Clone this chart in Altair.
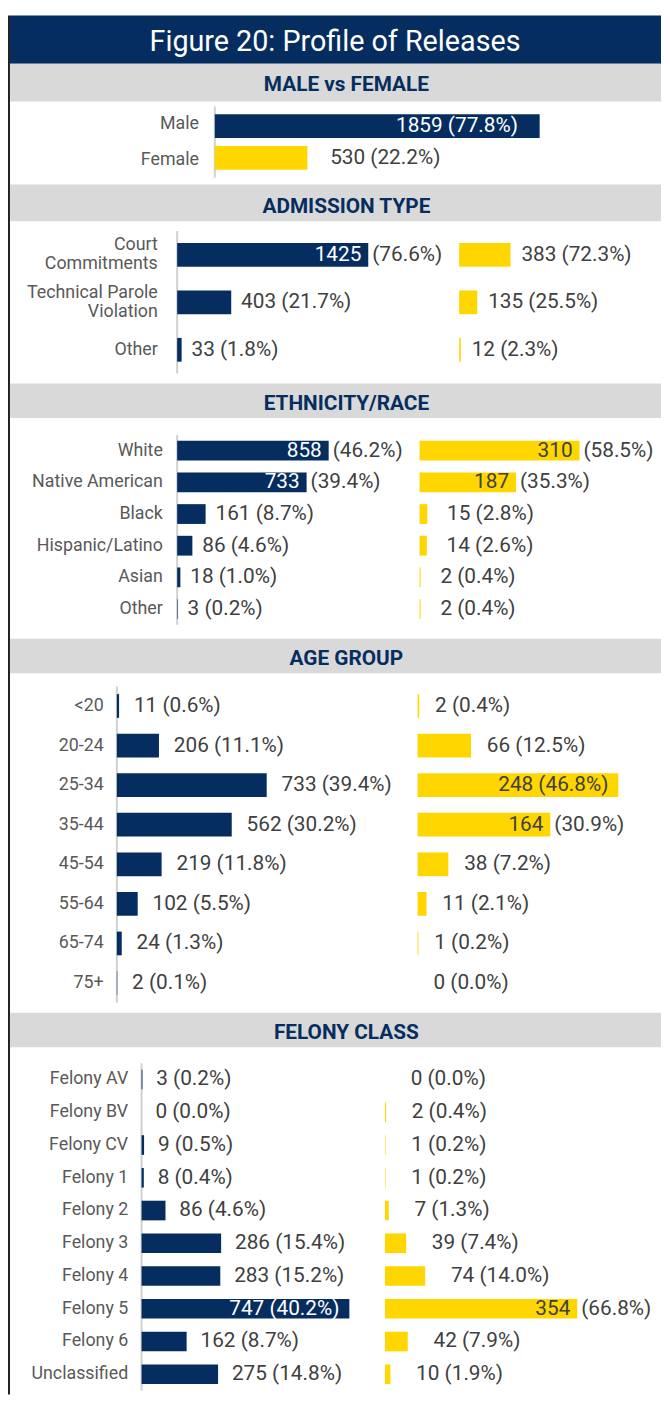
import altair as alt
import pandas as pd

FONT = "Roboto"
NAVY = "#062D5F"
GOLD = "#FFD600"
GRAY_BAND = "#D9D9D9"
AXIS_GRAY = "#D0D0D0"
BORDER = "#231F20"
LABEL_GRAY = "#595959"
VALUE_GRAY = "#404040"

FIGURE_TITLE = "Figure 20: Profile of Releases"
SECTION_TITLES = ["MALE vs FEMALE", "ADMISSION TYPE", "ETHNICITY/RACE", "AGE GROUP", "FELONY CLASS"]

# ---- data ----
sex_cats = ["Male", "Female"]
sex_counts = [1859, 530]
sex_pcts = [77.8, 22.2]

adm_cats = ["Court\nCommitments", "Technical Parole\nViolation", "Other"]
adm_male = [1425, 403, 33]
adm_male_pct = [76.6, 21.7, 1.8]
adm_female = [383, 135, 12]
adm_female_pct = [72.3, 25.5, 2.3]

eth_cats = ["White", "Native American", "Black", "Hispanic/Latino", "Asian", "Other"]
eth_male = [858, 733, 161, 86, 18, 3]
eth_male_pct = [46.2, 39.4, 8.7, 4.6, 1.0, 0.2]
eth_female = [310, 187, 15, 14, 2, 2]
eth_female_pct = [58.5, 35.3, 2.8, 2.6, 0.4, 0.4]

age_cats = ["<20", "20-24", "25-34", "35-44", "45-54", "55-64", "65-74", "75+"]
age_male = [11, 206, 733, 562, 219, 102, 24, 2]
age_male_pct = [0.6, 11.1, 39.4, 30.2, 11.8, 5.5, 1.3, 0.1]
age_female = [2, 66, 248, 164, 38, 11, 1, 0]
age_female_pct = [0.4, 12.5, 46.8, 30.9, 7.2, 2.1, 0.2, 0.0]

fel_cats = ["Felony AV", "Felony BV", "Felony CV", "Felony 1", "Felony 2",
            "Felony 3", "Felony 4", "Felony 5", "Felony 6", "Unclassified"]
fel_male = [3, 0, 9, 8, 86, 286, 283, 747, 162, 275]
fel_male_pct = [0.2, 0.0, 0.5, 0.4, 4.6, 15.4, 15.2, 40.2, 8.7, 14.8]
fel_female = [0, 2, 1, 1, 7, 39, 74, 354, 42, 10]
fel_female_pct = [0.0, 0.4, 0.2, 0.2, 1.3, 7.4, 14.0, 66.8, 7.9, 1.9]

# ---- layout ----
W = 658
TOTAL_H = 1394
VAL_FS = 21
CAT_FS = 18
LINE_H = 19


def value_df(cats, values, pcts, sexes, w, dom, out_gap):
    """Label placement: inside long bars, split when an outside label would crowd the panel edge."""
    rows = []
    for c, v, p, s in zip(cats, values, pcts, sexes):
        label = f"{v} ({p:.1f}%)"
        length = v * w / dom
        est = len(label) * 0.48 * VAL_FS
        if length >= 200:
            mode = "in"
        elif length + out_gap + est > 0.92 * w:
            mode = "split"
        else:
            mode = "out"
        rows.append(dict(cat=c, value=v, sex=s, label=label, cnt=str(v),
                         pct=f"({p:.1f}%)", mode=mode))
    return pd.DataFrame(rows)


def yenc(cats, pi, po):
    return alt.Y("cat:N", sort=cats,
                 scale=alt.Scale(domain=cats, paddingInner=pi, paddingOuter=po),
                 axis=None)


def panel(cats, values, pcts, sexes, w, h, dom, pi, po, out_gap, in_gap, rule):
    df = value_df(cats, values, pcts, sexes, w, dom, out_gap)
    y = yenc(cats, pi, po)
    x = alt.X("value:Q", scale=alt.Scale(domain=[0, dom], nice=False, zero=True), axis=None)
    tkw = dict(font=FONT, fontSize=VAL_FS, baseline="middle")
    base = alt.Chart(df)
    bars = base.mark_bar().encode(
        x=x, y=y,
        color=alt.Color("sex:N", scale=alt.Scale(domain=["M", "F"], range=[NAVY, GOLD]), legend=None))
    inside_color = alt.condition(alt.datum.sex == "M", alt.value("white"), alt.value(VALUE_GRAY))
    t_out = base.transform_filter(alt.datum.mode == "out").mark_text(
        align="left", dx=out_gap, color=VALUE_GRAY, **tkw).encode(x=x, y=y, text="label:N")
    t_in = base.transform_filter(alt.datum.mode == "in").mark_text(
        align="right", dx=-in_gap, **tkw).encode(x=x, y=y, text="label:N", color=inside_color)
    t_cnt = base.transform_filter(alt.datum.mode == "split").mark_text(
        align="right", dx=-7, **tkw).encode(x=x, y=y, text="cnt:N", color=inside_color)
    t_pct = base.transform_filter(alt.datum.mode == "split").mark_text(
        align="left", dx=4, color=VALUE_GRAY, **tkw).encode(x=x, y=y, text="pct:N")
    layers = [bars, t_out, t_in, t_cnt, t_pct]
    if rule:
        r = alt.Chart(pd.DataFrame({"r": [0]})).mark_rule(color=AXIS_GRAY, strokeWidth=2).encode(
            x=alt.value(0), y=alt.value(0), y2=alt.value(h))
        layers.insert(0, r)
    return alt.layer(*layers).properties(width=w, height=h)


def label_panel(cats, w, h, pi, po, x_right):
    d = pd.DataFrame({"cat": cats, "nl": [c.count("\n") + 1 for c in cats]})
    kw = dict(align="right", baseline="middle", font=FONT, fontSize=CAT_FS, color=LABEL_GRAY,
              lineBreak="\n", lineHeight=LINE_H)
    enc = dict(y=yenc(cats, pi, po), x=alt.value(x_right), text="cat:N")
    one = alt.Chart(d).transform_filter(alt.datum.nl == 1).mark_text(**kw).encode(**enc)
    two = alt.Chart(d).transform_filter(alt.datum.nl == 2).mark_text(dy=-LINE_H / 2, **kw).encode(**enc)
    return alt.layer(one, two).properties(width=w, height=h)


def header(text, h, r0, r1, base_y):
    d = pd.DataFrame({"t": [text]})
    rect = alt.Chart(d).mark_rect(color=GRAY_BAND).encode(
        x=alt.value(0), x2=alt.value(W), y=alt.value(r0), y2=alt.value(r1))
    txt = alt.Chart(d).mark_text(
        font=FONT, fontSize=21, fontWeight="bold", color=NAVY, align="center",
        baseline="alphabetic").encode(x=alt.value(340), y=alt.value(base_y), text="t:N")
    return alt.layer(rect, txt).properties(width=W, height=h)


def title_chart():
    d = pd.DataFrame({"t": [FIGURE_TITLE]})
    rect = alt.Chart(d).mark_rect(color=NAVY).encode(
        x=alt.value(0), x2=alt.value(W), y=alt.value(0), y2=alt.value(49))
    txt = alt.Chart(d).mark_text(
        font=FONT, fontSize=29, color="white", align="center", baseline="alphabetic").encode(
        x=alt.value(328.5), y=alt.value(36), text="t:N")
    return alt.layer(rect, txt).properties(width=W, height=49)


# header layout: (height, band top, band bottom, text baseline)
HEADERS = [(42, 0, 38, 27.5), (52, 6, 43, 35), (60, 9, 44, 35.5), (60, 13, 48, 40), (59, 9, 44, 35.5)]

SECTIONS = [
    dict(cats=sex_cats, lw=206, lx=191, h=72, pi=0.25, po=0.25,
         panels=[dict(v=sex_counts, p=sex_pcts, s=["M", "F"], w=452, dom=2559, og=23, ig=22)]),
    dict(cats=adm_cats, lw=168, lx=149.4, h=144, pi=0.5, po=0.25,
         panels=[dict(v=adm_male, p=adm_male_pct, s="M", w=285, dom=2103, og=10, ig=10),
                 dict(v=adm_female, p=adm_female_pct, s="F", w=205, dom=1513, og=11, ig=10)]),
    dict(cats=eth_cats, lw=168, lx=154.5, h=192, pi=0.375, po=0.1875,
         panels=[dict(v=eth_male, p=eth_male_pct, s="M", w=245, dom=1373, og=10, ig=10),
                 dict(v=eth_female, p=eth_female_pct, s="F", w=245, dom=470, og=20, ig=10)]),
    dict(cats=age_cats, lw=107, lx=94.7, h=320, pi=0.4, po=0.2,
         panels=[dict(v=age_male, p=age_male_pct, s="M", w=304, dom=1471, og=15, ig=10),
                 dict(v=age_female, p=age_female_pct, s="F", w=247, dom=302, og=16, ig=10)]),
    dict(cats=fel_cats, lw=132, lx=119.5, h=331, pi=0.4, po=0.2,
         panels=[dict(v=fel_male, p=fel_male_pct, s="M", w=246, dom=875, og=14, ig=10),
                 dict(v=fel_female, p=fel_female_pct, s="F", w=280, dom=510, og=26, ig=10)]),
]

rows = [title_chart()]
for title, hd, sec in zip(SECTION_TITLES, HEADERS, SECTIONS):
    rows.append(header(title, *hd))
    parts = [label_panel(sec["cats"], sec["lw"], sec["h"], sec["pi"], sec["po"], sec["lx"])]
    for i, pn in enumerate(sec["panels"]):
        sexes = pn["s"] if isinstance(pn["s"], list) else [pn["s"]] * len(sec["cats"])
        parts.append(panel(sec["cats"], pn["v"], pn["p"], sexes, pn["w"], sec["h"], pn["dom"],
                           sec["pi"], sec["po"], pn["og"], pn["ig"], rule=(i == 0)))
    rows.append(alt.hconcat(*parts, spacing=0))

body = alt.vconcat(*rows, spacing=0)

border = alt.Chart(pd.DataFrame({"b": [0]})).mark_rect(color=BORDER).encode(
    x=alt.value(0), x2=alt.value(2), y=alt.value(0), y2=alt.value(TOTAL_H)).properties(width=2, height=TOTAL_H)

chart = alt.hconcat(border, body, spacing=0, padding=0, background="white").configure_view(
    strokeWidth=0, stroke="transparent")

chart.save("out.html", embed_options={"renderer": "svg", "actions": False})
